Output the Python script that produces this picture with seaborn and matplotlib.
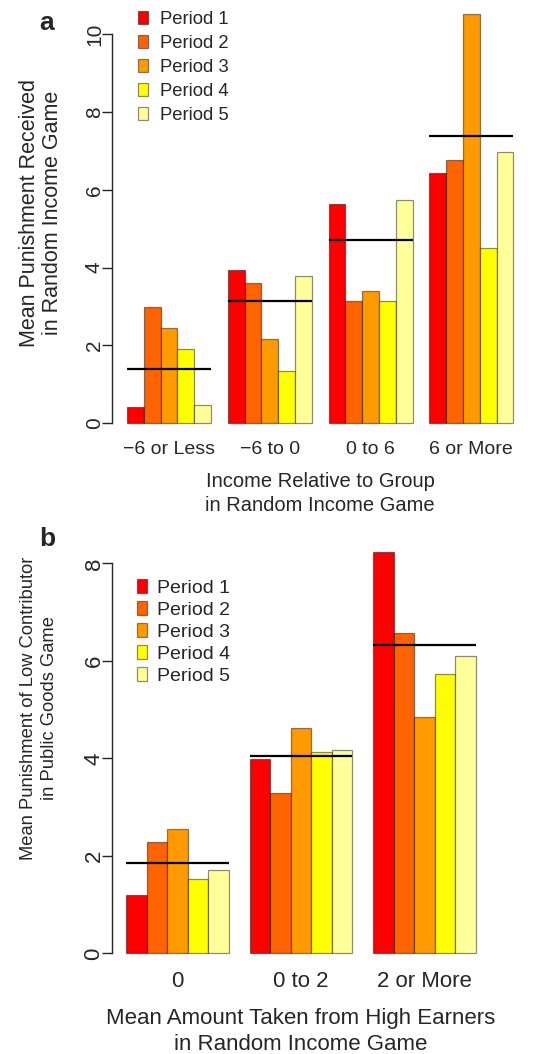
import numpy as np
import pandas as pd
import matplotlib.pyplot as plt
import seaborn as sns

periods = ['Period 1', 'Period 2', 'Period 3', 'Period 4', 'Period 5']
period_colors = ['#ff0000', '#ff6400', '#ff9a00', '#ffff00', '#ffff99']

# panel a: punishment received by income relative to group
income_groups = ['\u22126 or Less', '\u22126 to 0', '0 to 6', '6 or More']
recv_p1 = [0.43, 3.94, 5.64, 6.44]
recv_p2 = [3.00, 3.61, 3.15, 6.76]
recv_p3 = [2.46, 2.16, 3.39, 10.52]
recv_p4 = [1.91, 1.34, 3.15, 4.51]
recv_p5 = [0.47, 3.79, 5.74, 6.96]
recv_mean = [1.40, 3.13, 4.71, 7.39]

# panel b: punishment of low contributor by amount taken
taken_groups = ['0', '0 to 2', '2 or More']
low_p1 = [1.20, 3.98, 8.24]
low_p2 = [2.28, 3.29, 6.58]
low_p3 = [2.56, 4.62, 4.85]
low_p4 = [1.53, 4.14, 5.74]
low_p5 = [1.71, 4.18, 6.10]
low_mean = [1.86, 4.05, 6.32]

sns.set_style('ticks')
plt.rcParams['font.family'] = ['Liberation Sans', 'DejaVu Sans']

W, H = 539, 1054
fig = plt.figure(figsize=(W / 100, H / 100), dpi=100)


def px_box(left, top, right, bottom):
    return [left / W, 1 - bottom / H, (right - left) / W, (bottom - top) / H]


def draw_panel(ax, groups, series, means, ymax, fs_tick, fs_ytick):
    df = pd.DataFrame({'group': np.tile(groups, len(periods)),
                       'period': np.repeat(periods, len(groups)),
                       'value': np.concatenate(series)})
    sns.barplot(data=df, x='group', y='value', hue='period',
                order=groups, hue_order=periods, palette=period_colors,
                width=5 / 6, saturation=1, errorbar=None,
                edgecolor=(0, 0, 0, 0.45), linewidth=0.9, ax=ax)
    pos = np.arange(len(groups))
    ax.hlines(means, pos - 5 / 12, pos + 5 / 12, color='black', lw=1.6, zorder=5)
    sns.despine(ax=ax, bottom=True)
    ax.spines['left'].set_bounds(0, ymax)
    ax.spines['left'].set_linewidth(1.0)
    ax.set_yticks(np.arange(0, ymax + 1, 2))
    ax.tick_params(axis='y', length=7.2, width=1.0, pad=-1.8,
                   labelsize=fs_ytick, labelrotation=90)
    for lab in ax.get_yticklabels():
        lab.set_va('center')
    ax.tick_params(axis='x', length=0, pad=1, labelsize=fs_tick)
    ax.set_ylabel('')
    ax.patch.set_alpha(0)


# ---- panel a
ax1 = fig.add_axes(px_box(111.5, 0, 528.8, 439.6))
draw_panel(ax1, income_groups,
           [recv_p1, recv_p2, recv_p3, recv_p4, recv_p5],
           recv_mean, 10, 14, 15)
ax1.set_ylim(-0.42, 10.88)
ax1.set_xlim(-0.57, 3.57)
ax1.set_xlabel('Income Relative to Group\nin Random Income Game',
               fontsize=14.5, linespacing=1.32, labelpad=10)
sns.move_legend(ax1, loc='upper left', bbox_to_anchor=(138 / W, 1 - 11 / H),
                bbox_transform=fig.transFigure, frameon=False, title=None,
                fontsize=13.3, handlelength=0.55, handleheight=0.7,
                handletextpad=0.65, labelspacing=0.38, borderpad=0,
                borderaxespad=0)
fig.text(41 / W, 1 - 213 / H, 'Mean Punishment Received\nin Random Income Game',
         rotation=90, ha='center', va='center', fontsize=15.5, linespacing=1.1)
fig.text(47 / W, 1 - 23 / H, 'a', fontsize=19, fontweight='bold',
         ha='center', va='center')

# ---- panel b
ax2 = fig.add_axes(px_box(112, 534.1, 490, 969.4))
draw_panel(ax2, taken_groups,
           [low_p1, low_p2, low_p3, low_p4, low_p5],
           low_mean, 8, 16, 16)
ax2.set_ylim(-0.33, 8.6)
ax2.set_xlim(-0.53, 2.53)
ax2.set_xlabel('Mean Amount Taken from High Earners\nin Random Income Game',
               fontsize=16, linespacing=1.27, labelpad=12)
sns.move_legend(ax2, loc='upper left', bbox_to_anchor=(136.7 / W, 1 - 579 / H),
                bbox_transform=fig.transFigure, frameon=False, title=None,
                fontsize=14, handlelength=0.55, handleheight=0.7,
                handletextpad=0.5, labelspacing=0.23, borderpad=0,
                borderaxespad=0)
fig.text(39 / W, 1 - 708 / H, 'Mean Punishment of Low Contributor\nin Public Goods Game',
         rotation=90, ha='center', va='center', fontsize=13.2, linespacing=1.35)
fig.text(47 / W, 1 - 539 / H, 'b', fontsize=19, fontweight='bold',
         ha='center', va='center')

fig.savefig('out.png', dpi=100)
